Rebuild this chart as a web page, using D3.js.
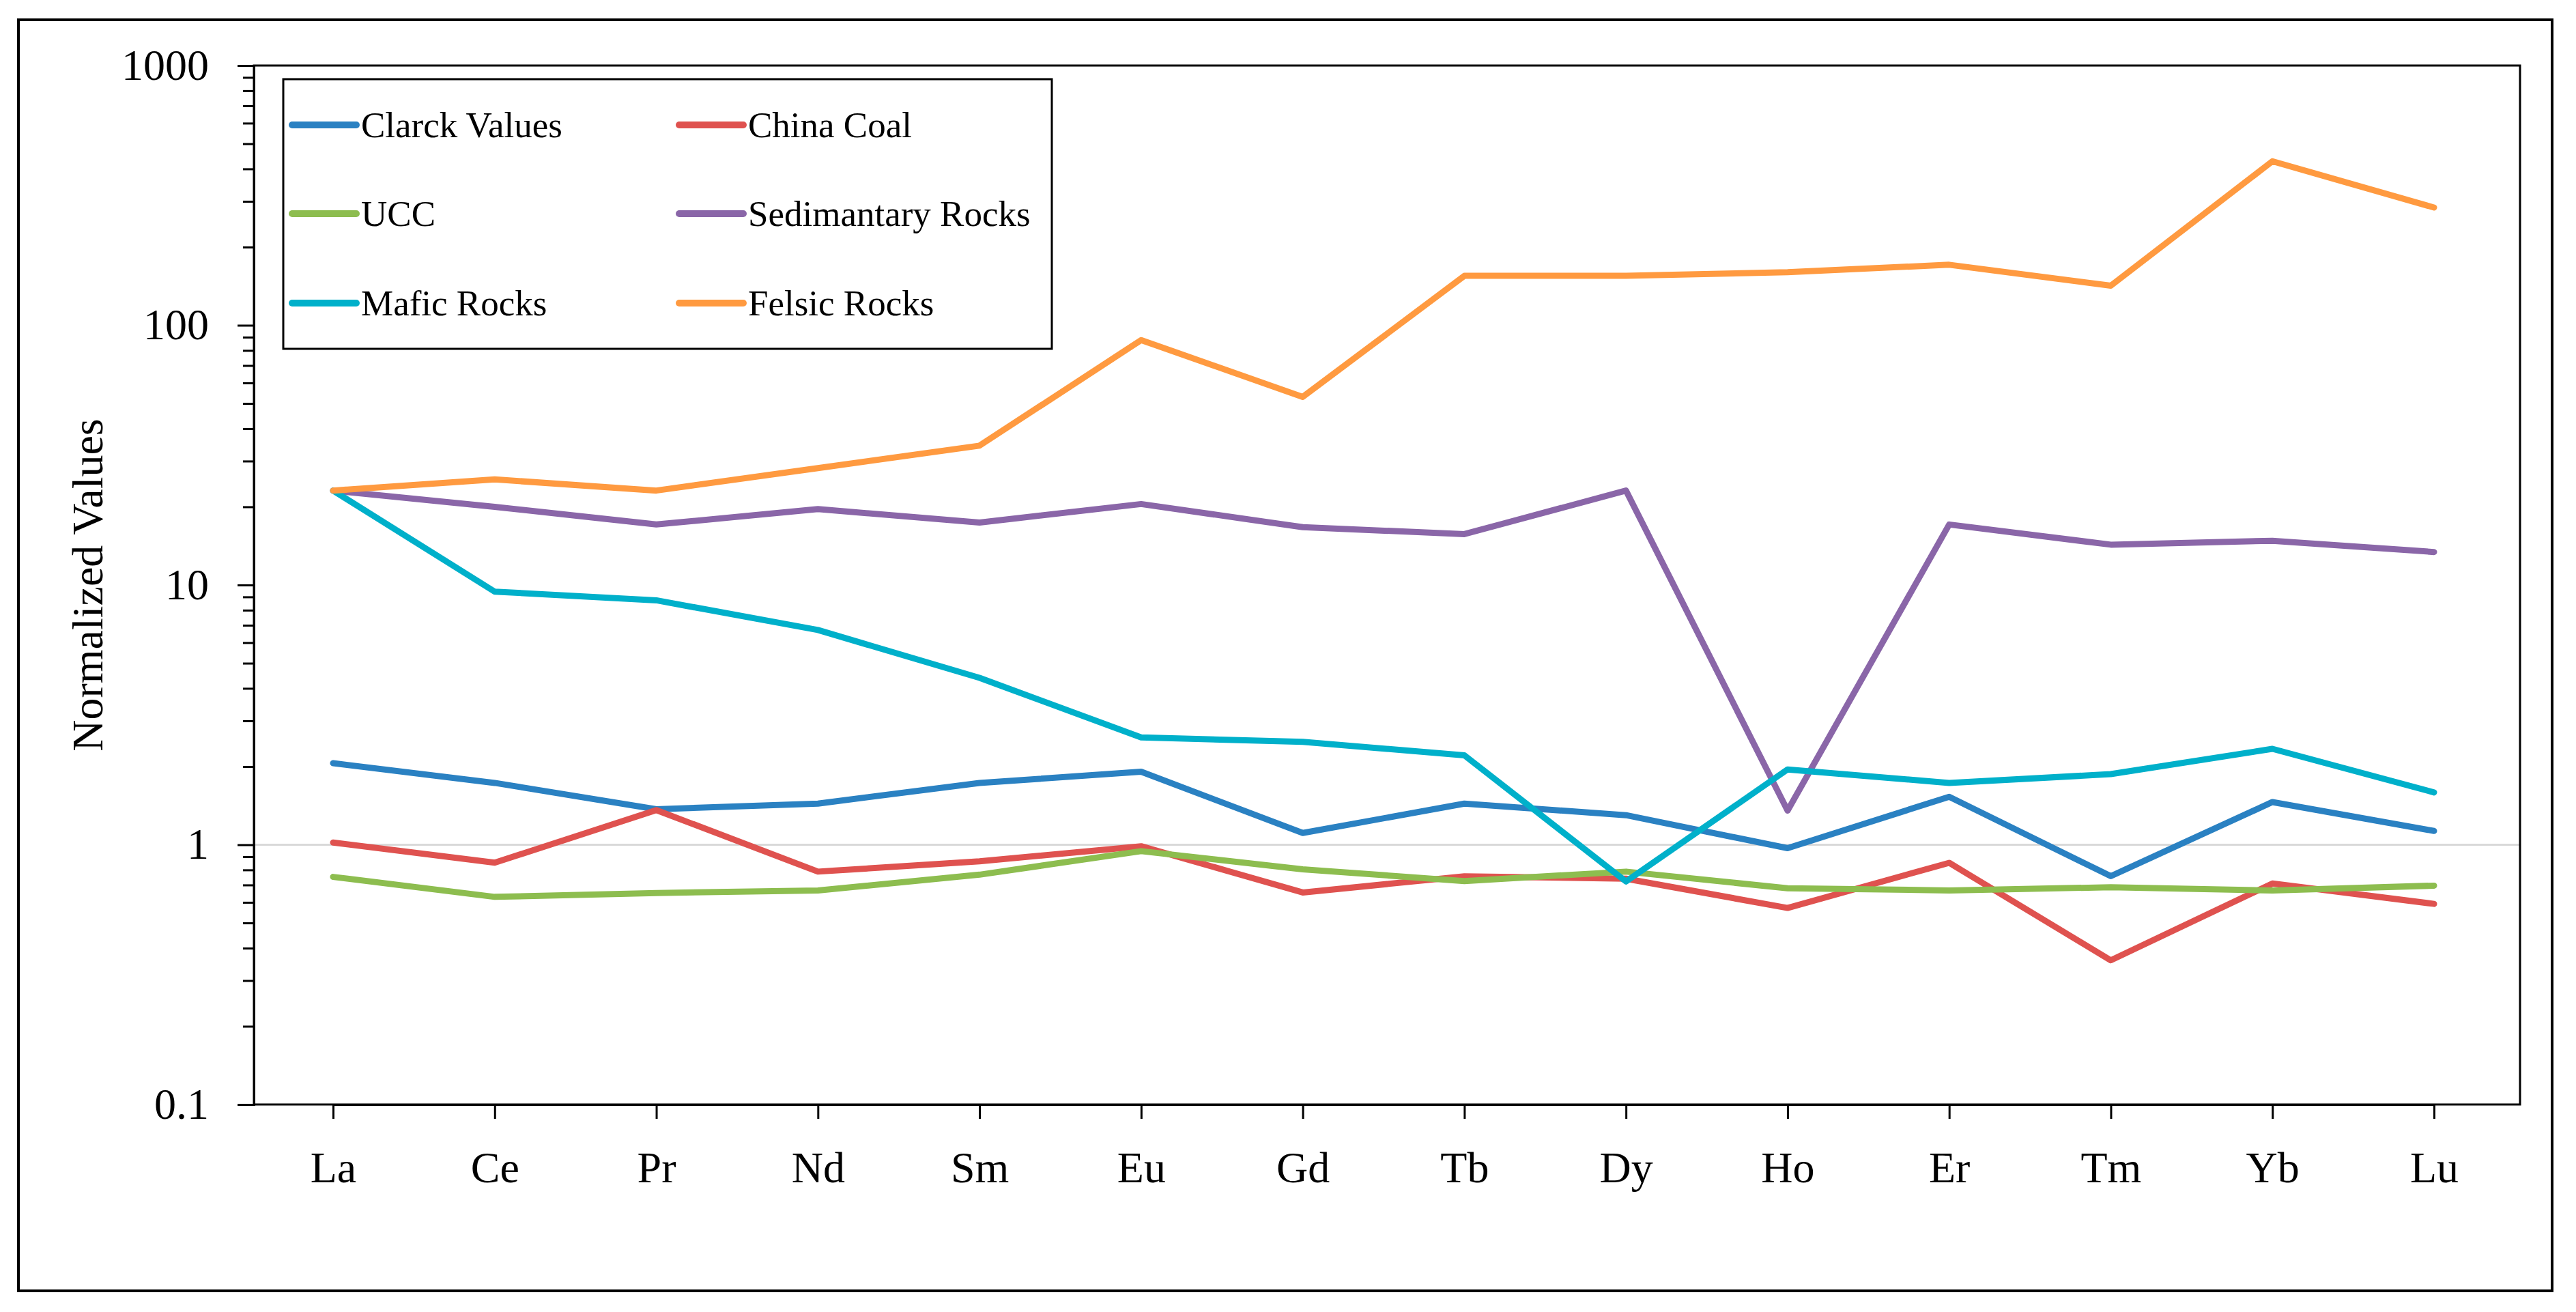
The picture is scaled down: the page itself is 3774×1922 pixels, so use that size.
<!DOCTYPE html>
<html>
<head>
<meta charset="utf-8">
<script src="https://cdn.jsdelivr.net/npm/d3@7"></script>
<style>
  body { margin: 0; background: #fff; }
</style>
</head>
<body>
<div id="chart"></div>
<script>
// categories (REE)
const elements = ["La", "Ce", "Pr", "Nd", "Sm", "Eu", "Gd", "Tb", "Dy", "Ho", "Er", "Tm", "Yb", "Lu"];

// series values
const clarckValues = [2.06, 1.73, 1.37, 1.44, 1.73, 1.91, 1.11, 1.44, 1.30, 0.97, 1.53, 0.757, 1.46, 1.13];
const chinaCoal    = [1.02, 0.853, 1.36, 0.788, 0.863, 0.987, 0.655, 0.756, 0.74, 0.571, 0.852, 0.359, 0.709, 0.592];
const ucc          = [0.752, 0.63, 0.652, 0.667, 0.767, 0.945, 0.804, 0.725, 0.788, 0.68, 0.667, 0.686, 0.667, 0.696];
const sedRocks     = [23.1, 20.0, 17.1, 19.6, 17.4, 20.5, 16.7, 15.7, 23.1, 1.354, 17.1, 14.3, 14.8, 13.4];
const maficRocks   = [23.1, 9.43, 8.73, 6.71, 4.39, 2.59, 2.49, 2.21, 0.722, 1.95, 1.73, 1.87, 2.34, 1.59];
const felsicRocks  = [23.1, 25.5, 23.1, 28.2, 34.4, 87.7, 53.0, 155, 155, 160, 171, 142, 428, 284];

const seriesNames  = ["Clarck Values", "China Coal", "UCC", "Sedimantary Rocks", "Mafic Rocks", "Felsic Rocks"];
const seriesColors = ["#2a81c2", "#df524f", "#8dbd4f", "#8a66a8", "#00b0ca", "#ff9a40"];
const seriesData   = [clarckValues, chinaCoal, ucc, sedRocks, maficRocks, felsicRocks];

const yTickValues = [0.1, 1, 10, 100, 1000];
const yTickLabels = ["0.1", "1", "10", "100", "1000"];

const FONT = "'Liberation Serif', 'Times New Roman', serif";
const W = 3774, H = 1922;
const plot = { left: 372, right: 3692, top: 96, bottom: 1618 };

const svg = d3.select("#chart").append("svg")
    .attr("width", W)
    .attr("height", H)
    .attr("font-family", FONT);

svg.append("rect")
    .attr("x", 0).attr("y", 0).attr("width", W).attr("height", H)
    .attr("fill", "#fff");

// outer chart border
svg.append("rect")
    .attr("x", 27).attr("y", 29)
    .attr("width", 3739 - 27).attr("height", 1891 - 29)
    .attr("fill", "none")
    .attr("stroke", "#000")
    .attr("stroke-width", 4);

const x = d3.scalePoint()
    .domain(elements)
    .range([plot.left + 116, plot.right - 126]);

const y = d3.scaleLog()
    .domain([0.1, 1000])
    .range([plot.bottom, plot.top]);

// gray line at 1
svg.append("line")
    .attr("x1", plot.left).attr("x2", plot.right)
    .attr("y1", y(1)).attr("y2", y(1))
    .attr("stroke", "#d9d9d9")
    .attr("stroke-width", 3);

// plot area border
svg.append("rect")
    .attr("x", plot.left).attr("y", plot.top)
    .attr("width", plot.right - plot.left).attr("height", plot.bottom - plot.top)
    .attr("fill", "none")
    .attr("stroke", "#000")
    .attr("stroke-width", 3);

// y axis with minor ticks
const minorTicks = [];
for (let p = -1; p < 3; p++) {
    for (let m = 2; m <= 9; m++) minorTicks.push(m * Math.pow(10, p));
}
svg.append("g")
    .attr("transform", `translate(${plot.left},0)`)
    .call(d3.axisLeft(y).tickValues(minorTicks).tickSize(16).tickFormat(""))
    .call(g => g.select(".domain").remove())
    .call(g => g.selectAll("line").attr("stroke", "#000").attr("stroke-width", 3));

const yAxis = svg.append("g")
    .attr("transform", `translate(${plot.left},0)`)
    .call(d3.axisLeft(y).tickValues(yTickValues).tickSize(24).tickPadding(42)
        .tickFormat((d, i) => yTickLabels[i]));
yAxis.attr("font-family", FONT);
yAxis.select(".domain").attr("stroke", "#000").attr("stroke-width", 3);
yAxis.selectAll("line").attr("stroke", "#000").attr("stroke-width", 3);
yAxis.selectAll("text")
    .attr("font-size", 64)
    .attr("fill", "#000");

// x axis
const xAxis = svg.append("g")
    .attr("transform", `translate(0,${plot.bottom})`)
    .call(d3.axisBottom(x).tickSize(21).tickPadding(48));
xAxis.attr("font-family", FONT);
xAxis.select(".domain").attr("stroke", "#000").attr("stroke-width", 3);
xAxis.selectAll("line").attr("stroke", "#000").attr("stroke-width", 3);
xAxis.selectAll("text")
    .attr("font-size", 64)
    .attr("fill", "#000");

// y axis title
svg.append("text")
    .attr("transform", `translate(150,${(plot.top + plot.bottom) / 2}) rotate(-90)`)
    .attr("text-anchor", "middle")
    .attr("font-family", FONT)
    .attr("font-size", 64)
    .attr("fill", "#000")
    .text("Normalized Values");

// lines
const line = d3.line()
    .x((d, i) => x(elements[i]))
    .y(d => y(d));

svg.append("g").selectAll("path")
    .data(seriesData)
    .enter().append("path")
    .attr("d", d => line(d))
    .attr("fill", "none")
    .attr("stroke", (d, i) => seriesColors[i])
    .attr("stroke-width", 9)
    .attr("stroke-linejoin", "round")
    .attr("stroke-linecap", "round");

// legend
const legend = svg.append("g");
legend.append("rect")
    .attr("x", 415).attr("y", 116)
    .attr("width", 1541 - 415).attr("height", 511 - 116)
    .attr("fill", "#fff")
    .attr("stroke", "#000")
    .attr("stroke-width", 3);

const colX = [428, 995];
const rowY = [183, 313, 444];
const items = legend.selectAll("g.item")
    .data(seriesNames)
    .enter().append("g")
    .attr("transform", (d, i) => `translate(${colX[i % 2]},${rowY[Math.floor(i / 2)]})`);
items.append("line")
    .attr("x1", 0).attr("x2", 94)
    .attr("y1", 0).attr("y2", 0)
    .attr("stroke", (d, i) => seriesColors[i])
    .attr("stroke-width", 10)
    .attr("stroke-linecap", "round");
items.append("text")
    .attr("x", 101)
    .attr("y", 0)
    .attr("dy", "0.33em")
    .attr("font-family", FONT)
    .attr("font-size", 53)
    .attr("fill", "#000")
    .text(d => d);
</script>
</body>
</html>
